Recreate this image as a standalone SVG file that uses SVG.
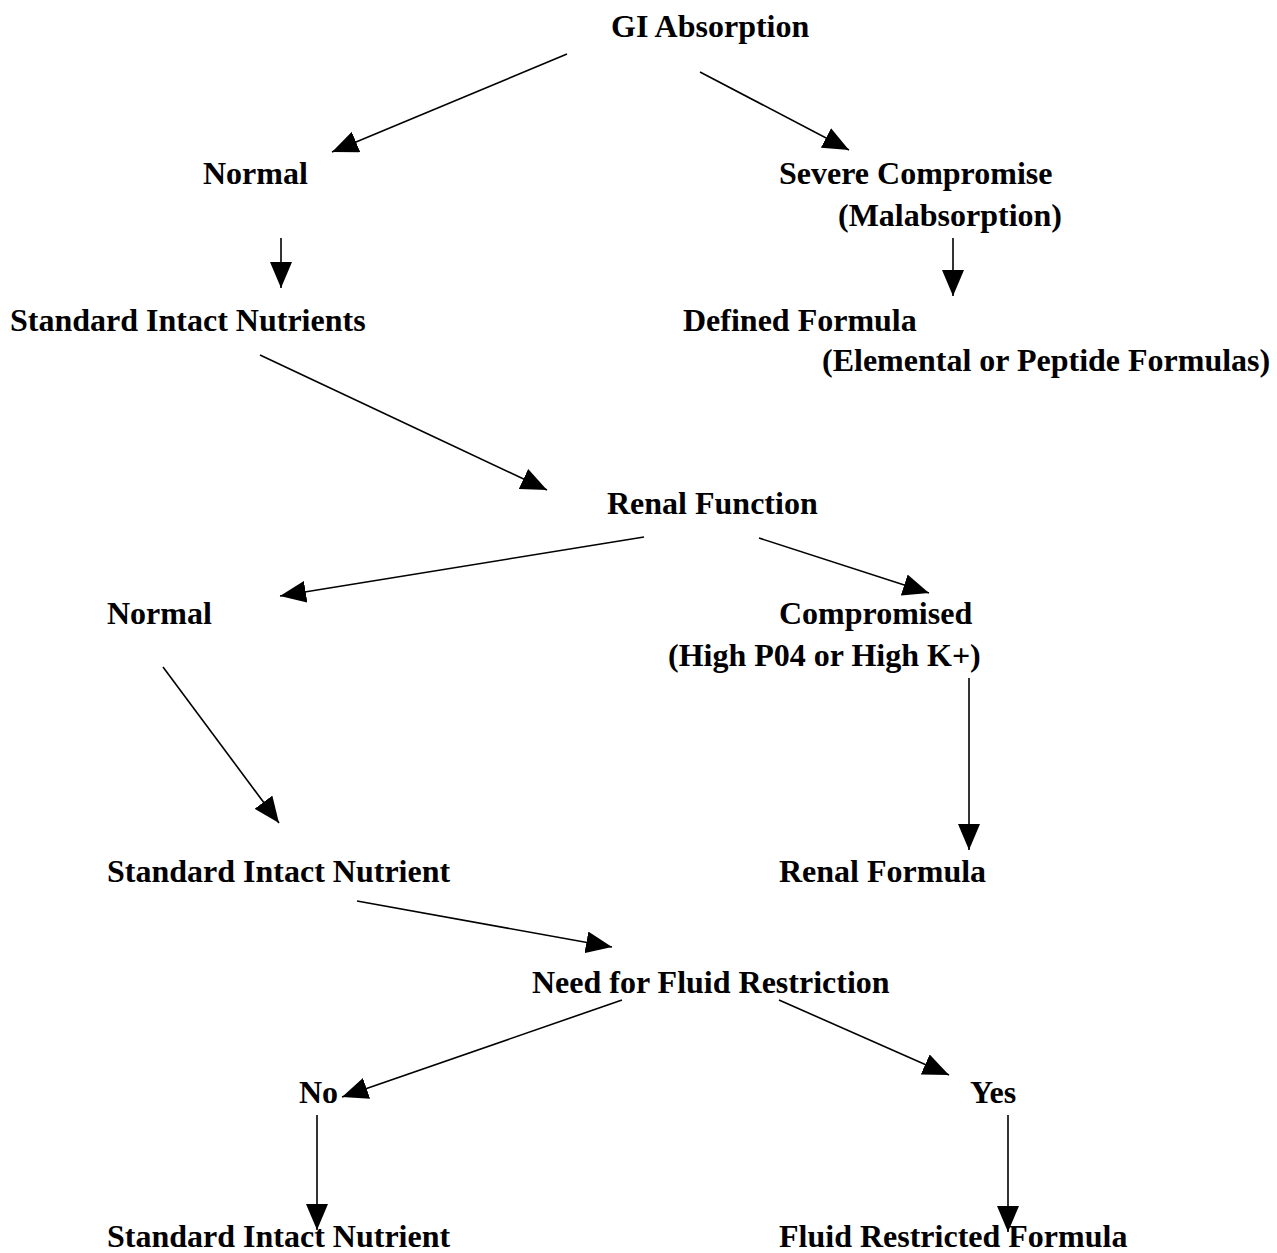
<svg xmlns="http://www.w3.org/2000/svg" width="1277" height="1253" viewBox="0 0 1277 1253">
<style>
text{font-family:"Liberation Serif","Times New Roman",serif;font-weight:bold;font-size:32px;fill:#000}
.c{stroke:#000;stroke-width:1.6;fill:none;marker-end:url(#ah)}
</style>
<defs>
<marker id="ah" markerUnits="userSpaceOnUse" markerWidth="26" markerHeight="22" viewBox="0 0 26 22" refX="26" refY="11" orient="auto">
<path d="M0,0 L26,11 L0,22 z" fill="#000"/>
</marker>
</defs>
<rect width="1277" height="1253" fill="#fff"/>
<g id="n-gi"><text x="611" y="37">GI Absorption</text></g>
<g id="n-normal1"><text x="203" y="184">Normal</text></g>
<g id="n-severe"><text x="779" y="184">Severe Compromise</text><text x="838" y="226">(Malabsorption)</text></g>
<g id="n-sin1"><text x="10" y="331">Standard Intact Nutrients</text></g>
<g id="n-defined"><text x="683" y="331">Defined Formula</text><text x="822" y="371">(Elemental or Peptide Formulas)</text></g>
<g id="n-renal"><text x="607" y="514">Renal Function</text></g>
<g id="n-normal2"><text x="107" y="624">Normal</text></g>
<g id="n-comp"><text x="779" y="624">Compromised</text><text x="668" y="666">(High P04 or High K+)</text></g>
<g id="n-sin2"><text x="107" y="882">Standard Intact Nutrient</text></g>
<g id="n-renalf"><text x="779" y="882">Renal Formula</text></g>
<g id="n-fluid"><text x="532" y="993">Need for Fluid Restriction</text></g>
<g id="n-no"><text x="299" y="1103">No</text></g>
<g id="n-yes"><text x="970" y="1103">Yes</text></g>
<g id="n-sin3"><text x="107" y="1247">Standard Intact Nutrient</text></g>
<g id="n-frf"><text x="779" y="1247">Fluid Restricted Formula</text></g>
<g id="connectors">
<line class="c" x1="567" y1="54" x2="332" y2="152"/>
<line class="c" x1="700" y1="72" x2="849" y2="150"/>
<line class="c" x1="281" y1="238" x2="281" y2="288"/>
<line class="c" x1="953" y1="238" x2="953" y2="296"/>
<line class="c" x1="260" y1="355" x2="547" y2="490"/>
<line class="c" x1="644" y1="537" x2="280" y2="596"/>
<line class="c" x1="759" y1="538" x2="929" y2="593"/>
<line class="c" x1="163" y1="667" x2="279" y2="823"/>
<line class="c" x1="969" y1="678" x2="969" y2="850"/>
<line class="c" x1="357" y1="901" x2="612" y2="947"/>
<line class="c" x1="622" y1="1000" x2="342" y2="1097"/>
<line class="c" x1="779" y1="1000" x2="949" y2="1075"/>
<line class="c" x1="317" y1="1115" x2="317" y2="1230"/>
<line class="c" x1="1008" y1="1115" x2="1008" y2="1232"/>
</g>
</svg>
